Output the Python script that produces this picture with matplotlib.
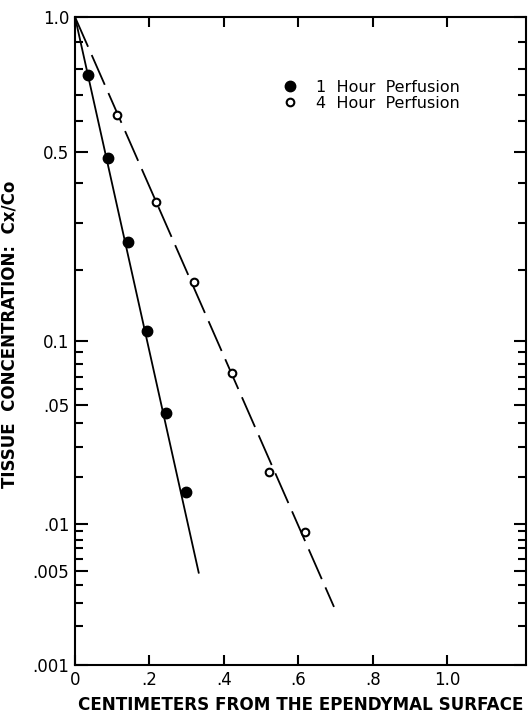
import numpy as np
import matplotlib
matplotlib.use("Agg")
import matplotlib.pyplot as plt
from matplotlib.lines import Line2D
from matplotlib.ticker import NullFormatter

# data (x in cm, y = Cx/Co)
x_1h = [0.035, 0.09, 0.143, 0.194, 0.245, 0.299]
y_1h = [0.775, 0.48, 0.255, 0.110, 0.0453, 0.016]
x_4h = [0.113, 0.218, 0.320, 0.422, 0.522, 0.618]
y_4h = [0.62, 0.349, 0.178, 0.073, 0.0214, 0.0089]

# fitted lines (start, end)
fit_1h_x = [0.0, 0.333]
fit_1h_y = [1.0, 0.0048]
fit_4h_x = [0.0, 0.696]
fit_4h_y = [1.0, 0.0028]

yticks_major = [1.0, 0.5, 0.1, 0.05, 0.01, 0.005, 0.001]
ytick_labels = ["1.0", "0.5", "0.1", ".05", ".01", ".005", ".001"]
yticks_minor = [0.9, 0.8, 0.7, 0.6, 0.4, 0.3, 0.2,
                0.09, 0.08, 0.07, 0.06, 0.04, 0.03, 0.02,
                0.009, 0.008, 0.007, 0.006, 0.004, 0.003, 0.002]
xticks = [0, 0.2, 0.4, 0.6, 0.8, 1.0]
xtick_labels = ["0", ".2", ".4", ".6", ".8", "1.0"]

# the printed semi-log paper is not a true log scale: calibrate it
# from where its rulings sit (fraction of axis height, bottom = 0)
cal_vals = np.array([0.001, .002, .003, .004, .005, .006, .007, .008, .009,
                     .01, .02, .03, .04, .05, .06, .07, .08, .09,
                     .1, .2, .3, .4, .5, .6, .7, .8, .9, 1.0])
cal_px = np.array([665, 626, 603, 585, 571, 559, 548, 540, 531,
                   524, 477, 447, 423, 405, 389, 377, 364, 352,
                   341, 270, 223, 183, 152, 121, 95, 69, 42, 17])
cal_log = np.log10(cal_vals)
cal_frac = (665 - cal_px) / 648.0


def fwd(v):
    v = np.clip(np.asarray(v, dtype=float), 1e-9, None)
    return np.interp(np.log10(v), cal_log, cal_frac)


def inv(f):
    return 10 ** np.interp(np.asarray(f, dtype=float), cal_frac, cal_log)


plt.rcParams['font.family'] = ['DejaVu Sans']

fig = plt.figure(figsize=(5.28, 7.16), dpi=100)
ax = fig.add_axes([75 / 528, 1 - 665 / 716, 451 / 528, 648 / 716])
ax.set_yscale('function', functions=(fwd, inv))

ax.plot(fit_1h_x, fit_1h_y, color='black', lw=1.3, solid_capstyle='butt')
ax.plot(fit_4h_x, fit_4h_y, color='black', lw=1.3, linestyle=(0, (18, 5)))
ax.plot(x_1h, y_1h, 'o', color='black', ms=7.5, zorder=3)
ax.plot(x_4h, y_4h, 'o', color='black', mfc='white', mew=1.5, ms=5.5, zorder=3)

ax.set_xlim(0, 1.212)
ax.set_ylim(0.001, 1.0)

ax.set_yticks(yticks_major, labels=ytick_labels)
ax.set_yticks(yticks_minor, minor=True)
ax.yaxis.set_minor_formatter(NullFormatter())
ax.set_xticks(xticks, labels=xtick_labels)

ax.tick_params(axis='both', which='both', direction='in',
               top=True, right=True, width=1.5, labelsize=12, pad=4)
ax.tick_params(axis='y', which='major', length=9)
ax.tick_params(axis='y', which='minor', length=6)
ax.tick_params(axis='x', which='major', length=7)
for s in ax.spines.values():
    s.set_linewidth(1.5)

ax.set_xlabel("CENTIMETERS FROM THE EPENDYMAL SURFACE",
              fontsize=12.1, fontweight='bold', labelpad=5)
ax.set_ylabel("TISSUE  CONCENTRATION:  Cx/Co",
              fontsize=12, fontweight='bold')
ax.yaxis.set_label_coords(-0.125, 0.51)

handles = [
    Line2D([], [], marker='o', ls='none', color='black', ms=7.5),
    Line2D([], [], marker='o', ls='none', color='black', mfc='white',
           mew=1.5, ms=5.5),
]
ax.legend(handles, ["1  Hour  Perfusion", "4  Hour  Perfusion"],
          loc='upper left', bbox_to_anchor=(0.442, 0.915), frameon=False,
          fontsize=11.5, handlelength=1.0, handletextpad=1.1,
          borderpad=0, labelspacing=0.05)

fig.savefig("out.png", dpi=100)
